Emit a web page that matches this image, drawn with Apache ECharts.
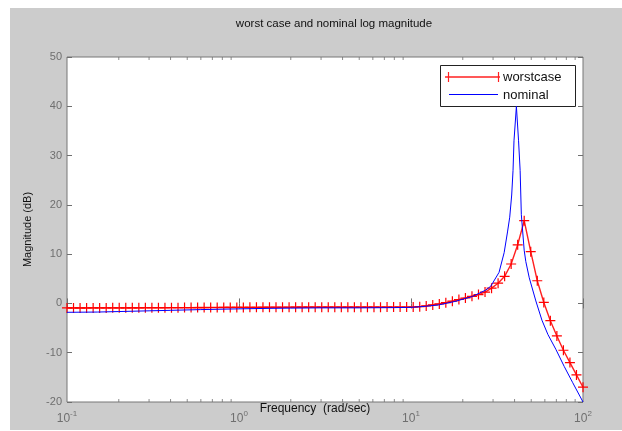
<!DOCTYPE html>
<html>
<head>
<meta charset="utf-8">
<script src="https://cdn.jsdelivr.net/npm/echarts@6/dist/echarts.min.js"></script>
<style>
  html, body { margin: 0; padding: 0; background: #fff; }
  #chart { width: 622px; height: 431px; }
</style>
</head>
<body>
<div id="chart"></div>
<script>
// worstcase: + markers, log spaced frequencies (rad/sec)
var freqWorst = [
  0.1000, 0.1091, 0.1191, 0.1300, 0.1419, 0.1548, 0.1690, 0.1844, 0.2012, 0.2196,
  0.2397, 0.2616, 0.2855, 0.3116, 0.3401, 0.3711, 0.4050, 0.4420, 0.4824, 0.5265,
  0.5746, 0.6271, 0.6844, 0.7469, 0.8152, 0.8896, 0.9712, 1.060, 1.157, 1.263,
  1.378, 1.504, 1.641, 1.791, 1.955, 2.134, 2.328, 2.541, 2.773, 3.027,
  3.303, 3.605, 3.935, 4.294, 4.687, 5.115, 5.582, 6.092, 6.649, 7.257,
  7.920, 8.643, 9.433, 10.30, 11.24, 12.26, 13.38, 14.61, 15.94, 17.40,
  18.99, 20.72, 22.62, 24.68, 26.94, 29.40, 32.09, 35.02, 38.22, 41.71,
  45.52, 49.68, 54.22, 59.18, 64.59, 70.49, 76.93, 83.96, 91.63, 100.0
];
var magWorst = [
  -0.92, -0.92, -0.92, -0.92, -0.91, -0.91, -0.91, -0.90, -0.90, -0.90,
  -0.89, -0.89, -0.88, -0.88, -0.87, -0.87, -0.86, -0.86, -0.85, -0.85,
  -0.84, -0.84, -0.83, -0.83, -0.82, -0.82, -0.81, -0.81, -0.80, -0.80,
  -0.79, -0.79, -0.78, -0.78, -0.78, -0.77, -0.77, -0.77, -0.76, -0.76,
  -0.76, -0.76, -0.75, -0.75, -0.75, -0.75, -0.75, -0.75, -0.75, -0.74,
  -0.74, -0.74, -0.74, -0.72, -0.65, -0.5, -0.3, -0.1, 0.15, 0.45,
  0.8, 1.1, 1.45, 1.8, 2.3, 3.1, 4.1, 5.5, 8.0, 11.9,
  16.8, 10.5, 4.6, 0.2, -3.5, -6.6, -9.5, -12.0, -14.5, -17.0
];

// nominal: solid blue line
var freqNominal = [
  0.1, 0.15, 0.2, 0.3, 0.4, 0.6, 1, 1.5, 2, 3,
  5, 8, 10, 12, 14.5, 18, 22.7, 27.2, 29.1, 32.5,
  34.8, 36.4, 37.5, 38.5, 39.2, 39.7, 41.0, 42.2, 43.1, 43.8,
  45.5, 46.5, 48.7, 53.2, 57.7, 62.5, 69.5, 77.8, 86.9, 100
];
var magNominal = [
  -1.8, -1.75, -1.65, -1.5, -1.4, -1.25, -1.1, -1.0, -0.95, -0.9,
  -0.9, -0.85, -0.8, -0.6, -0.3, 0.4, 1.4, 2.7, 3.5, 6.3,
  10.3, 14.5, 17.5, 22, 27, 33, 40, 33, 27, 18,
  10.8, 8.5, 5.2, 0.5, -3.4, -6.3, -9.3, -12.8, -16, -20
];

// log minor tick positions (2..9 per decade)
var minorTicks = [0.2, 0.3, 0.4, 0.5, 0.6, 0.7, 0.8, 0.9, 2, 3, 4, 5, 6, 7, 8, 9, 20, 30, 40, 50, 60, 70, 80, 90];
var yMin = -20, yMax = 50, yStep = 10;

function zip(xs, ys) {
  return xs.map(function (x, i) { return [x, ys[i]]; });
}

var plusPath = 'path://M4.4,0h1.2v10h-1.2z M0,4.4h10v1.2h-10z';

var axisGray = '#6f6f6f';
var fontFam = '"Liberation Sans", Arial, sans-serif';
var red = '#ff2020', blue = '#0000ff';

// matlab style legend box, drawn as graphics
var legendBox = [
  { type: 'rect', shape: { x: 440.5, y: 65.5, width: 135, height: 41 },
    style: { fill: '#fff', stroke: '#222', lineWidth: 1 } },
  { type: 'line', shape: { x1: 445, y1: 77, x2: 500, y2: 77 }, style: { stroke: red, lineWidth: 1.4 } },
  { type: 'line', shape: { x1: 448.5, y1: 72, x2: 448.5, y2: 82 }, style: { stroke: red, lineWidth: 1.2 } },
  { type: 'line', shape: { x1: 498.5, y1: 72, x2: 498.5, y2: 82 }, style: { stroke: red, lineWidth: 1.2 } },
  { type: 'line', shape: { x1: 449, y1: 94.5, x2: 498, y2: 94.5 }, style: { stroke: blue, lineWidth: 1 } },
  { type: 'text', style: { text: 'worstcase', x: 503, y: 77, verticalAlign: 'middle',
      font: '13px ' + fontFam, fill: '#111' } },
  { type: 'text', style: { text: 'nominal', x: 503, y: 95, verticalAlign: 'middle',
      font: '13px ' + fontFam, fill: '#111' } }
];

var chart = echarts.init(document.getElementById('chart'));
chart.setOption({
  backgroundColor: '#fff',
  animation: false,
  textStyle: { fontFamily: fontFam },
  graphic: [{
    type: 'rect', z: -100, silent: true,
    shape: { x: 10, y: 8, width: 612, height: 422 },
    style: { fill: '#cccccc' }
  }, {
    type: 'group', z: 100, silent: true,
    children: legendBox
  }],
  title: {
    text: 'worst case and nominal log magnitude',
    left: 329, top: 13, textAlign: 'center',
    textStyle: { fontSize: 11.5, fontWeight: 'normal', color: '#111', fontFamily: fontFam }
  },
  grid: {
    left: 67, top: 57, width: 516, height: 345,
    outerBoundsMode: 'none', containLabel: false,
    show: true, backgroundColor: '#fff', borderColor: '#777', borderWidth: 1
  },
  xAxis: [{
    type: 'log', logBase: 10, min: 0.1, max: 100,
    position: 'bottom',
    name: 'Frequency  (rad/sec)', nameLocation: 'middle', nameGap: 1,
    nameMoveOverlap: false,
    nameTextStyle: { fontSize: 12, color: '#111', padding: [0, 20, 0, 0] },
    axisLine: { show: false },
    axisTick: { inside: true, length: 5, lineStyle: { color: axisGray } },
    splitLine: { show: false },
    axisLabel: {
      margin: 8, color: axisGray,
      formatter: function (v) {
        return '{b|10}{s|' + Math.round(Math.log10(v)) + '}';
      },
      rich: {
        b: { fontSize: 12, color: axisGray, fontFamily: fontFam },
        s: { fontSize: 8, color: axisGray, fontFamily: fontFam, padding: [0, 0, 9, 0] }
      }
    }
  }, {
    type: 'log', logBase: 10, min: 0.1, max: 100,
    position: 'top',
    axisLine: { show: false },
    axisTick: { inside: true, length: 5, lineStyle: { color: axisGray } },
    axisLabel: { show: false },
    splitLine: { show: false }
  }],
  yAxis: [{
    type: 'value', min: yMin, max: yMax, interval: yStep,
    position: 'left',
    name: 'Magnitude (dB)', nameLocation: 'middle', nameGap: 34, nameRotate: 90,
    nameTextStyle: { fontSize: 11, color: '#111' },
    axisLine: { show: false },
    axisTick: { show: true, inside: true, length: 5, lineStyle: { color: axisGray } },
    axisLabel: { fontSize: 11, color: axisGray, margin: 5 },
    splitLine: { show: false }
  }, {
    type: 'value', min: yMin, max: yMax, interval: yStep,
    position: 'right',
    axisLine: { show: false },
    axisTick: { show: true, inside: true, length: 5, lineStyle: { color: axisGray } },
    axisLabel: { show: false },
    splitLine: { show: false }
  }],
  series: [{
    name: 'worstcase',
    type: 'line',
    data: zip(freqWorst, magWorst),
    lineStyle: { width: 1.4, color: red },
    symbol: plusPath,
    symbolSize: 10,
    showSymbol: true,
    itemStyle: { color: '#ff0000' },
    z: 3
  }, {
    name: 'nominal',
    type: 'line',
    data: zip(freqNominal, magNominal),
    lineStyle: { width: 1, color: blue },
    itemStyle: { color: blue },
    symbol: 'none',
    z: 4
  }, {
    name: 'minorBottom',
    type: 'scatter',
    data: minorTicks.map(function (f) { return [f, yMin]; }),
    symbol: 'rect', symbolSize: [1, 3], symbolOffset: [0, -1.5],
    itemStyle: { color: axisGray },
    silent: true, z: 1
  }, {
    name: 'minorTop',
    type: 'scatter',
    data: minorTicks.map(function (f) { return [f, yMax]; }),
    symbol: 'rect', symbolSize: [1, 3], symbolOffset: [0, 1.5],
    itemStyle: { color: axisGray },
    silent: true, z: 1
  }]
});
</script>
</body>
</html>
